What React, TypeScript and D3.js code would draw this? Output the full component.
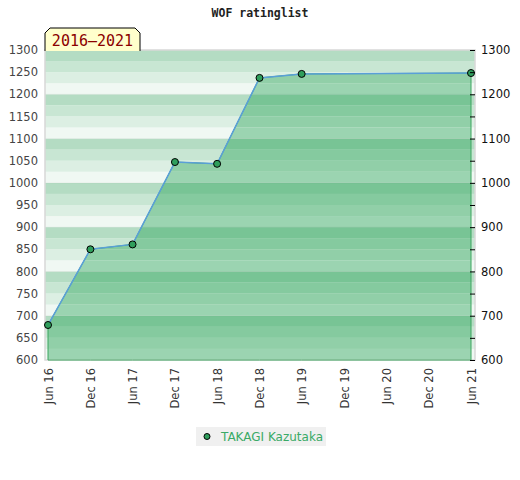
import { useEffect, useRef } from 'react';
import * as d3 from 'd3';

// rating history of one player
const dates = ['2016-06-01', '2016-12-01', '2017-06-01', '2017-12-01', '2018-06-01', '2018-12-01', '2019-06-01', '2021-06-01'];
const ratings = [679, 850, 861, 1047, 1043, 1237, 1246, 1248];
const tickDates = ['2016-06-01', '2016-12-01', '2017-06-01', '2017-12-01', '2018-06-01', '2018-12-01', '2019-06-01', '2019-12-01', '2020-06-01', '2020-12-01', '2021-06-01'];
const playerName = 'TAKAGI Kazutaka';
const chartTitle = 'WOF ratinglist';
const periodLabel = '2016\u20132021';

const bgColors = ['#b4dcc3', '#c8e6d3', '#dcefe3', '#f0f8f3'];
const fillColors = ['#78c495', '#85ca9f', '#91cfa8', '#9bd4b1'];

interface Point {
  date: Date;
  rating: number;
}

export default function App() {
  const ref = useRef<SVGSVGElement>(null);

  useEffect(() => {
    if (!ref.current) return;
    const svg = d3.select(ref.current);
    svg.selectAll('*').remove();

    const left = 45, right = 475, top = 50, bottom = 360;
    const parse = d3.utcParse('%Y-%m-%d');
    const data: Point[] = dates.map((d, i) => ({ date: parse(d)!, rating: ratings[i] }));
    const ticks = tickDates.map(d => parse(d)!);

    const x = d3.scaleUtc()
      .domain([ticks[0], ticks[ticks.length - 1]])
      .range([48, 471]);
    const y = d3.scaleLinear().domain([600, 1300]).range([bottom, top]);

    const bands = d3.range(600, 1300, 25);
    const bandIndex = (v: number) => ((1300 - (v + 25)) % 100) / 25;

    // background stripes
    svg.append('g')
      .selectAll('rect')
      .data(bands)
      .join('rect')
      .attr('x', left)
      .attr('width', right - left)
      .attr('y', d => y(d + 25))
      .attr('height', d => y(d) - y(d + 25))
      .attr('fill', d => bgColors[bandIndex(d)]);

    const area = d3.area<Point>()
      .x(d => x(d.date))
      .y0(bottom)
      .y1(d => y(d.rating));

    svg.append('clipPath')
      .attr('id', 'areaClip')
      .append('path')
      .attr('d', area(data));

    svg.append('g')
      .attr('clip-path', 'url(#areaClip)')
      .selectAll('rect')
      .data(bands)
      .join('rect')
      .attr('x', left)
      .attr('width', right - left)
      .attr('y', d => y(d + 25))
      .attr('height', d => y(d) - y(d + 25))
      .attr('fill', d => fillColors[bandIndex(d)]);

    // faint lines at every hundred
    svg.append('g')
      .selectAll('line')
      .data(d3.range(700, 1300, 100))
      .join('line')
      .attr('x1', left)
      .attr('x2', right)
      .attr('y1', d => y(d))
      .attr('y2', d => y(d))
      .attr('stroke', '#000')
      .attr('stroke-opacity', 0.04);

    // plot frame
    svg.append('rect')
      .attr('x', left)
      .attr('y', top)
      .attr('width', right - left)
      .attr('height', bottom - top)
      .attr('fill', 'none')
      .attr('stroke', '#d8d8d8')
      .attr('stroke-width', 1.5);

    svg.append('path')
      .attr('d', area(data))
      .attr('fill', 'none')
      .attr('stroke', '#3aa65f')
      .attr('stroke-width', 1);

    svg.append('path')
      .datum(data)
      .attr('fill', 'none')
      .attr('stroke', '#5a9fd8')
      .attr('stroke-width', 1.5)
      .attr('d', d3.line<Point>().x(d => x(d.date)).y(d => y(d.rating)));

    svg.append('g')
      .selectAll('circle')
      .data(data)
      .join('circle')
      .attr('cx', d => x(d.date))
      .attr('cy', d => y(d.rating))
      .attr('r', 3.5)
      .attr('fill', '#2f9e5c')
      .attr('stroke', '#000')
      .attr('stroke-width', 1);

    // left axis
    const leftAxis = svg.append('g')
      .attr('transform', `translate(${left},0)`)
      .call(d3.axisLeft(y).tickValues(d3.range(600, 1301, 50)).tickSize(0).tickPadding(7).tickFormat(d3.format('d')));
    leftAxis.select('.domain').remove();
    leftAxis.selectAll('text')
      .attr('fill', '#444')
      .style('font-family', 'DejaVu Sans')
      .style('font-size', '11.5px');

    // right axis
    const rightAxis = svg.append('g')
      .attr('transform', `translate(${right},0)`)
      .call(d3.axisRight(y).tickValues(d3.range(600, 1301, 50)).tickSize(-5).tickPadding(6)
        .tickFormat(d => (+d % 100 === 0 ? String(d) : '')));
    rightAxis.select('.domain').remove();
    rightAxis.selectAll('line').attr('stroke', '#000');
    rightAxis.selectAll('text')
      .attr('fill', '#111')
      .style('font-family', 'DejaVu Sans')
      .style('font-size', '11.5px');

    // bottom axis
    const bottomAxis = svg.append('g')
      .attr('transform', `translate(0,${bottom})`)
      .call(d3.axisBottom(x).tickValues(ticks).tickSize(0).tickFormat(d => d3.utcFormat('%b %y')(d as Date)));
    bottomAxis.select('.domain').remove();
    bottomAxis.selectAll('text')
      .attr('transform', 'rotate(-90)')
      .attr('x', -8)
      .attr('y', 0)
      .attr('dy', '0.35em')
      .attr('text-anchor', 'end')
      .attr('fill', '#333')
      .style('font-family', 'DejaVu Sans')
      .style('font-size', '11.5px');

    // title
    svg.append('text')
      .attr('x', 260)
      .attr('y', 17)
      .attr('text-anchor', 'middle')
      .style('font-family', 'DejaVu Sans Mono')
      .style('font-weight', 'bold')
      .style('font-size', '11.5px')
      .attr('fill', '#222')
      .text(chartTitle);

    // period badge
    const bx0 = 45, bx1 = 140, by0 = 28, by1 = 51, c = 5;
    svg.append('path')
      .attr('d', `M${bx0},${by1} L${bx0},${by0 + c} L${bx0 + c},${by0} L${bx1 - c},${by0} L${bx1},${by0 + c} L${bx1},${by1}`)
      .attr('fill', '#ffffcc')
      .attr('stroke', '#000')
      .attr('stroke-width', 1);
    svg.append('text')
      .attr('x', (bx0 + bx1) / 2)
      .attr('y', 46)
      .attr('text-anchor', 'middle')
      .style('font-family', 'DejaVu Sans Mono')
      .style('font-size', '15px')
      .attr('fill', '#8b0000')
      .text(periodLabel);

    // legend
    const legend = svg.append('g').attr('transform', 'translate(196,427)');
    legend.append('rect')
      .attr('width', 130)
      .attr('height', 19)
      .attr('fill', '#f0f0f0');
    legend.append('circle')
      .attr('cx', 11)
      .attr('cy', 9.5)
      .attr('r', 3)
      .attr('fill', '#2f9e5c')
      .attr('stroke', '#000');
    legend.append('text')
      .attr('x', 25)
      .attr('y', 14)
      .style('font-family', 'DejaVu Sans')
      .style('font-size', '12px')
      .attr('fill', '#3aaa66')
      .text(playerName);
  }, []);

  return (
    <div style={{ position: 'absolute', left: 0, top: 0 }}>
      <svg ref={ref} width={520} height={480} />
    </div>
  );
}
